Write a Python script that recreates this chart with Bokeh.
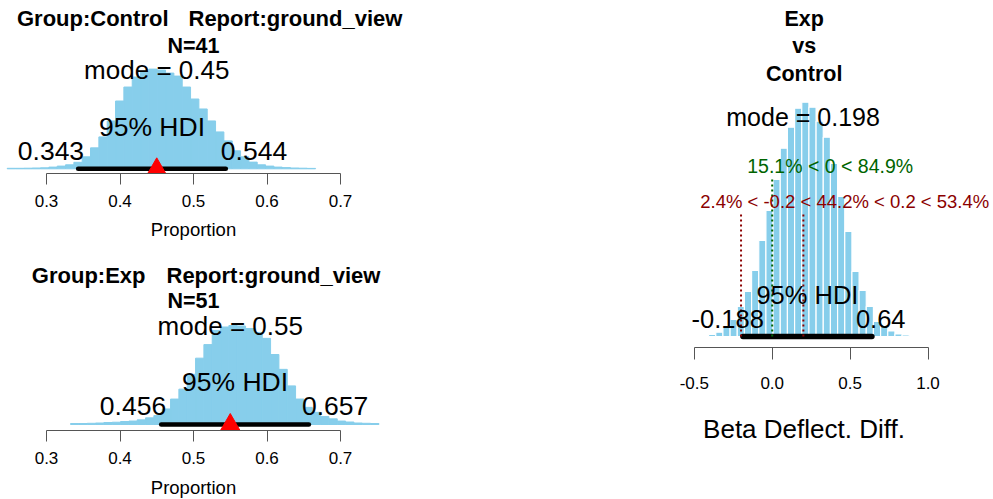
import numpy as np
from bokeh.plotting import figure
from bokeh.models import Range1d, FixedTicker, Label
from bokeh.layouts import row, column
from bokeh.embed import file_html
from bokeh.resources import INLINE

# ---------------- data ----------------
ctl_bin_start = 0.2465
ctl_bin_width = 0.01134
ctl_counts = [0.5, 0.5, 0.6, 0.8, 1.0, 1.7, 2.7, 4.0, 6.5, 12, 21, 32, 48, 68, 82,
              92, 97, 100, 99, 96, 93, 82, 70, 60, 48, 37, 28, 18, 12, 6.7,
              4.0, 2.7, 1.7, 1.2, 0.8, 0.6, 0.4]
ctl_mode = 0.45
ctl_hdi = [0.343, 0.544]
ctl_title = ["Group:Control", "Report:ground_view", "N=41"]

exp_bin_start = 0.3327
exp_bin_width = 0.01134
exp_counts = [1.0, 1.0, 1.2, 1.5, 2.0, 2.3, 3.0, 3.5, 4.7, 6.7, 9.0, 15.7, 25.7, 35.7, 50.7,
              67, 80.7, 95, 98.5, 100, 99.5, 97, 93, 87, 70.7, 55.7, 39, 25.7, 17.3, 12.3,
              8.0, 5.7, 3.5, 2.5, 1.5, 1.2, 1.0]
exp_mode = 0.55
exp_hdi = [0.456, 0.657]
exp_title = ["Group:Exp", "Report:ground_view", "N=51"]

diff_bin_start = -0.4083
diff_bin_width = 0.046
diff_counts = [2, 4.3, 9, 17, 30, 45, 66, 96, 126, 157, 188, 209, 228, 234, 229,
               215, 199, 173, 140, 105, 65, 46, 30, 15, 10, 5.5, 2.5, 1.5]
diff_mode = 0.198
diff_hdi = [-0.188, 0.64]
comp_val = 0.0
comp_pct = [15.1, 84.9]
rope = [-0.2, 0.2]
rope_pct = [2.4, 44.2, 53.4]
diff_title = ["Exp", "vs", "Control"]

prop_ticks = [0.3, 0.4, 0.5, 0.6, 0.7]
prop_tick_labels = ["0.3", "0.4", "0.5", "0.6", "0.7"]
prop_axis_title = "Proportion"
diff_ticks = [-0.5, 0.0, 0.5, 1.0]
diff_tick_labels = ["-0.5", "0.0", "0.5", "1.0"]
diff_axis_title = "Beta Deflect. Diff."

# ---------------- style ----------------
FONT = "Liberation Sans"
SKY = "#87CEEB"
AXC = "#555555"
GREEN = "#006400"
DRED = "#8B0000"
BASE_SHIFT = 0.35   # em; lifts Bokeh's alphabetic anchor onto the visual baseline
LEFT_W = 448
LEFT_X = (0.23741, 0.84694)       # left column: 735 px per unit, frame 0 .. 448 px


def make_fig(w, h, xr, yr, bl, br, bb, axis=True):
    p = figure(width=w, height=h, x_range=Range1d(*xr), y_range=Range1d(*yr),
               output_backend="svg", toolbar_location=None, y_axis_location=None,
               x_axis_location="below" if axis else None,
               min_border_left=bl, min_border_right=br, min_border_top=0,
               min_border_bottom=bb)
    p.outline_line_color = None
    p.xgrid.visible = False
    p.ygrid.visible = False
    p.background_fill_color = "white"
    p.border_fill_color = "white"
    return p


def style_axis(p, ticks, labels, tick_out, standoff, title=None, title_size=None,
               title_standoff=None):
    ax = p.xaxis[0]
    ax.ticker = FixedTicker(ticks=ticks)
    ax.major_label_overrides = {t: l for t, l in zip(ticks, labels)}
    ax.bounds = (ticks[0], ticks[-1])
    ax.major_tick_in = 0
    ax.major_tick_out = tick_out
    ax.minor_tick_line_color = None
    ax.axis_line_color = AXC
    ax.major_tick_line_color = AXC
    ax.major_label_text_font = FONT
    ax.major_label_text_font_size = "17px"
    ax.major_label_text_color = "black"
    ax.major_label_standoff = standoff
    if title is not None:
        ax.axis_label = title
        ax.axis_label_text_font = FONT
        ax.axis_label_text_font_size = f"{title_size}px"
        ax.axis_label_text_font_style = "normal"
        ax.axis_label_text_color = "black"
        ax.axis_label_standoff = title_standoff


def lab(p, x, y, text, size, align="center", xo=0, color="black", bold=False):
    # y: visual baseline, in px (1 data unit = 1 px vertically in every panel)
    p.add_layout(Label(x=x, y=y + BASE_SHIFT * size, text=text, text_font=FONT,
                       text_font_size=f"{size}px", text_align=align,
                       text_baseline="alphabetic", x_offset=xo, text_color=color,
                       text_font_style="bold" if bold else "normal"))


def bars(p, start, width, counts, peak_px, line_color, line_width):
    c = np.asarray(counts, dtype=float)
    left = start + width * np.arange(len(c))
    top = c / c.max() * peak_px
    p.quad(left=left, right=left + width, bottom=0, top=top,
           fill_color=SKY, line_color=line_color, line_width=line_width)
    return top.max()


def prop_panel(h, border_bottom, yr, peak_px, start, width, counts, mode, hdi, title,
               title_y, n_y, offs):
    p = make_fig(LEFT_W, h, LEFT_X, yr, 0, 0, border_bottom)
    top = bars(p, start, width, counts, peak_px, SKY, 1)
    p.line(x=hdi, y=[0, 0], line_width=4.5, line_color="black", line_cap="round")
    p.scatter(x=[mode], y=[0], marker="triangle", size=19, fill_color="red", line_color="red")
    style_axis(p, prop_ticks, prop_tick_labels, 11, 10)
    mid = (prop_ticks[0] + prop_ticks[-1]) / 2
    lab(p, mid, title_y, title[0], 22, align="right", xo=offs[0], bold=True)
    lab(p, mid, title_y, title[1], 22, align="left", xo=offs[1], bold=True)
    lab(p, mid, n_y, title[2], 21.5, bold=True)
    lab(p, mode, 0.9 * top, f"mode = {mode:g}", 26)
    lab(p, sum(hdi) / 2, 33, "95% HDI", 26.5)
    lab(p, hdi[0], 9, f"{hdi[0]:g}", 26.5, align="right", xo=offs[2])
    lab(p, hdi[1], 9, f"{hdi[1]:g}", 26.5, align="left", xo=offs[3])
    return p


def axis_title_strip(h, baseline):
    s = make_fig(LEFT_W, h, LEFT_X, (-h, 0), 0, 0, 0, axis=False)
    mid = (prop_ticks[0] + prop_ticks[-1]) / 2
    lab(s, mid, -baseline, prop_axis_title, 18.5)
    return s


pA = prop_panel(216, 43, (-4.7, 168.3), 99.7, ctl_bin_start, ctl_bin_width, ctl_counts,
                ctl_mode, ctl_hdi, ctl_title, 142.3, 115.6, (-25, -5, 6, -5))
lA = axis_title_strip(42, 19.3)
pB = prop_panel(216, 44, (-6, 166), 99, exp_bin_start, exp_bin_width, exp_counts,
                exp_mode, exp_hdi, exp_title, 141.3, 115.7, (-48, -27, 5, -7))
lB = axis_title_strip(25, 19)

# ---------------- difference panel ----------------
pC = make_fig(545, 499, (-1.0122, 1.4204), (-11, 336), 166, 0, 152)
topC = bars(pC, diff_bin_start, diff_bin_width, diff_counts, 234.3, "white", 1.2)
pC.line(x=diff_hdi, y=[0, 0], line_width=5.5, line_color="black", line_cap="round")
pC.line(x=[comp_val, comp_val], y=[0, 0.96 * 0.7 * topC], line_color=GREEN,
        line_width=2, line_dash="2 3")
for r in rope:
    pC.line(x=[r, r], y=[0, 0.96 * 0.55 * topC], line_color=DRED, line_width=2, line_dash="2 3")
style_axis(pC, diff_ticks, diff_tick_labels, 12, 17, diff_axis_title, 26, 22)

title_x = 0.205
for t, yy in zip(diff_title, [310, 282.7, 255]):
    lab(pC, title_x, yy, t, 21.5, bold=True)
lab(pC, diff_mode, 0.9 * topC, f"mode = {diff_mode:g}", 25)
lab(pC, comp_val, 0.7 * topC,
    f"{comp_pct[0]:g}% < {comp_val:g} < {comp_pct[1]:g}%", 19.5, align="left", xo=-25, color=GREEN)
lab(pC, (rope[0] + rope[1]) / 2, 0.55 * topC,
    f"{rope_pct[0]:g}% < {rope[0]:g} < {rope_pct[1]:g}% < {rope[1]:g} < {rope_pct[2]:g}%",
    18.5, align="left", xo=-72, color=DRED)
lab(pC, sum(diff_hdi) / 2, 33, "95% HDI", 25.5)
lab(pC, diff_hdi[0], 9, f"{diff_hdi[0]:g}", 25.5, align="right", xo=21)
lab(pC, diff_hdi[1], 9, f"{diff_hdi[1]:g}", 25.5, align="left", xo=-16)

layout = row(column(pA, lA, pB, lB), pC)
open("out.html", "w").write(file_html(layout, INLINE))
